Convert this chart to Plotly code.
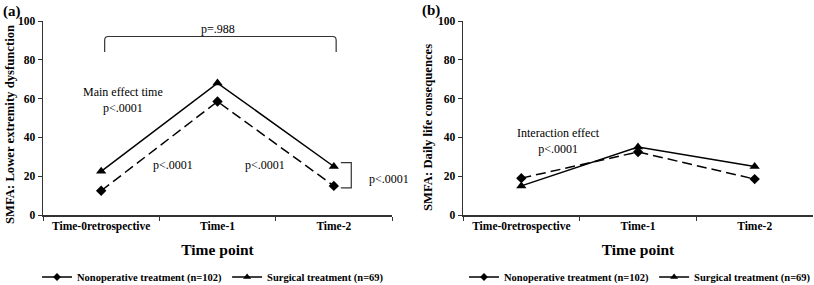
import plotly.graph_objects as go

categories = ["Time-0retrospective", "Time-1", "Time-2"]
a_nonop = [12.5, 58.5, 15.0]
a_surg = [22.5, 68.0, 25.0]
b_nonop = [19.0, 32.5, 18.5]
b_surg = [15.0, 35.0, 25.0]
series_names = ["Nonoperative treatment (n=102)", "Surgical treatment (n=69)"]
yticks = [0, 20, 40, 60, 80, 100]

SERIF = "Liberation Serif"
W, H = 814, 285

def px(x):
    return x / W

def py(y):
    return 1 - y / H

fig = go.Figure()

panels = [("x", "y", a_nonop, a_surg, "legend"), ("x2", "y2", b_nonop, b_surg, "legend2")]
for xa, ya, nonop, surg, lg in panels:
    fig.add_trace(go.Scatter(x=categories, y=nonop, xaxis=xa, yaxis=ya, mode="lines+markers",
                             line=dict(color="black", width=1.5, dash="10px,5px"),
                             marker=dict(symbol="diamond", size=8, color="black"),
                             showlegend=False, cliponaxis=False, hoverinfo="skip"))
    fig.add_trace(go.Scatter(x=categories, y=surg, xaxis=xa, yaxis=ya, mode="lines+markers",
                             line=dict(color="black", width=1.5),
                             marker=dict(symbol="triangle-up", size=9, color="black"),
                             showlegend=False, cliponaxis=False, hoverinfo="skip"))
    # legend entries (solid lines as in the reference legend)
    fig.add_trace(go.Scatter(x=[None], y=[None], xaxis=xa, yaxis=ya, mode="lines+markers",
                             name=series_names[0], legend=lg,
                             line=dict(color="black", width=1.5),
                             marker=dict(symbol="diamond", size=6, color="black")))
    fig.add_trace(go.Scatter(x=[None], y=[None], xaxis=xa, yaxis=ya, mode="lines+markers",
                             name=series_names[1], legend=lg,
                             line=dict(color="black", width=1.5),
                             marker=dict(symbol="triangle-up", size=7, color="black")))

ydom = [py(215), py(21)]
xcommon = dict(type="category", categoryorder="array", categoryarray=categories,
               range=[-0.5, 2.5], showline=True, linecolor="#333", linewidth=1.5,
               ticks="outside", tickson="boundaries", ticklen=4, tickcolor="#333",
               showgrid=False, zeroline=False, automargin=False,
               tickfont=dict(family=SERIF, size=11.5, color="black", weight="bold"),
               title=dict(text="<b>Time point</b>", font=dict(family=SERIF, size=15.5, color="black"),
                          standoff=12))
ycommon = dict(range=[0, 100], tickvals=yticks, showline=True, linecolor="#333", linewidth=1.5,
               ticks="outside", ticklen=4, tickcolor="#333", showgrid=False, zeroline=False,
               automargin=False,
               tickfont=dict(family=SERIF, size=11.5, color="black", weight="bold"))

legfont = dict(family=SERIF, size=10.5, color="black", weight="bold")
fig.update_layout(
    width=W, height=H,
    margin=dict(l=0, r=0, t=0, b=0, autoexpand=False),
    paper_bgcolor="white", plot_bgcolor="white",
    xaxis=dict(domain=[px(43), px(392)], anchor="y", **xcommon),
    yaxis=dict(domain=ydom, anchor="x", **ycommon),
    xaxis2=dict(domain=[px(463), px(813)], anchor="y2", **xcommon),
    yaxis2=dict(domain=ydom, anchor="x2", **ycommon),
    legend=dict(orientation="h", x=px(213), y=py(277), xanchor="center", yanchor="middle",
                font=legfont, itemwidth=30, tracegroupgap=0, bgcolor="rgba(0,0,0,0)"),
    legend2=dict(orientation="h", x=px(816), y=py(277), xanchor="right", yanchor="middle",
                 font=legfont, itemwidth=30, tracegroupgap=0, bgcolor="rgba(0,0,0,0)"),
    showlegend=True,
    hovermode=False,
)

ann_font = dict(family=SERIF, size=12, color="black")
annotations = [
    dict(text="<b>(a)</b>", xref="paper", yref="paper", x=px(1), y=py(11), xanchor="left",
         font=dict(family=SERIF, size=15, color="black")),
    dict(text="<b>(b)</b>", xref="paper", yref="paper", x=px(420), y=py(10), xanchor="left",
         font=dict(family=SERIF, size=15, color="black")),
    dict(text="<b>SMFA: Lower extremity dysfunction</b>", xref="paper", yref="paper",
         x=px(10), y=py(125), textangle=-90,
         font=dict(family=SERIF, size=12.7, color="black")),
    dict(text="<b>SMFA: Daily life consequences</b>", xref="paper", yref="paper",
         x=px(428), y=py(128), textangle=-90,
         font=dict(family=SERIF, size=12.7, color="black")),
    dict(text="p=.988", xref="x", yref="y", x=1.0, y=96, font=ann_font),
    dict(text="Main effect time<br>p<.0001", xref="x", yref="y", x=0.19, y=59.5, font=ann_font),
    dict(text="p<.0001", xref="x", yref="y", x=0.62, y=26, font=ann_font),
    dict(text="p<.0001", xref="x", yref="y", x=1.41, y=26, font=ann_font),
    dict(text="p<.0001", xref="x", yref="y", x=2.47, y=18.5, font=ann_font),
    dict(text="Interaction effect<br>p<.0001", xref="x2", yref="y2", x=0.32, y=38, font=ann_font),
]
for a in annotations:
    a.setdefault("align", "center")
    a.setdefault("xanchor", "center")
    a.setdefault("yanchor", "middle")
    a["showarrow"] = False
fig.update_layout(annotations=annotations)

# brackets
fig.add_shape(type="path", xref="x", yref="y",
              path="M 0.03,84 L 0.03,90 Q 0.03,92 0.06,92 L 1.99,92 Q 2.02,92 2.02,90 L 2.02,84",
              line=dict(color="#333", width=1.2))
fig.add_shape(type="path", xref="x", yref="y",
              path="M 2.06,27 L 2.15,27 L 2.15,14 L 2.06,14",
              line=dict(color="#333", width=1.2))

fig.write_html("out.html", config=dict(displayModeBar=False, staticPlot=True),
               post_script="document.body.style.margin='0';document.body.style.overflow='hidden';")
